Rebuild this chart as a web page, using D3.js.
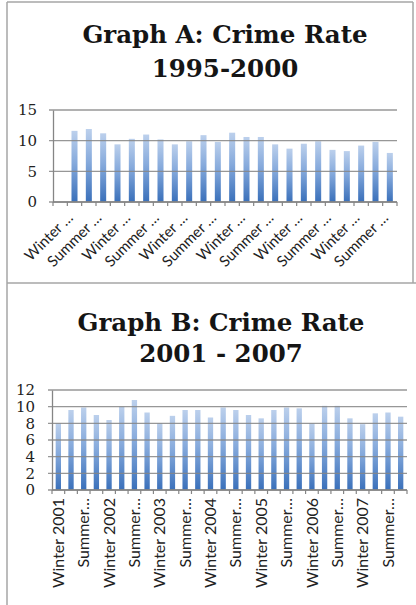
<!DOCTYPE html>
<html>
<head>
<meta charset="utf-8">
<script src="https://cdn.jsdelivr.net/npm/d3@7"></script>
<style>
  body { margin: 0; background: #fff; }
  svg { display: block; }
</style>
</head>
<body>
<div id="chart"></div>
<script>
// seasons per year
var seasons = ["Winter", "Spring", "Summer", "Fall"];

// Graph A: 1995-2000 (first quarter has no bar)
var yearsA = [1995, 1996, 1997, 1998, 1999, 2000];
var valuesA = [null, 11.6, 11.9, 11.2, 9.4, 10.3, 11.0, 10.2, 9.4, 9.9, 10.9, 9.8,
               11.3, 10.6, 10.6, 9.4, 8.7, 9.5, 9.9, 8.5, 8.3, 9.2, 9.8, 8.0];
var tickLabelsA = ["Winter …", "Summer …", "Winter …", "Summer …", "Winter …", "Summer …",
                   "Winter …", "Summer …", "Winter …", "Summer …", "Winter …", "Summer …"];
var yTicksA = [0, 5, 10, 15];

// Graph B: 2001-2007
var yearsB = [2001, 2002, 2003, 2004, 2005, 2006, 2007];
var valuesB = [8.0, 9.6, 9.9, 9.0, 8.4, 10.0, 10.8, 9.3, 8.0, 8.9, 9.6, 9.6, 8.7, 9.9,
               9.6, 9.0, 8.6, 9.6, 9.9, 9.8, 8.0, 10.1, 10.1, 8.6, 7.9, 9.2, 9.3, 8.8];
var tickLabelsB = ["Winter 2001", "Summer…", "Winter 2002", "Summer…", "Winter 2003", "Summer…",
                   "Winter 2004", "Summer…", "Winter 2005", "Summer…", "Winter 2006", "Summer…",
                   "Winter 2007", "Summer…"];
var yTicksB = [0, 2, 4, 6, 8, 10, 12];

function quarters(years) {
  var out = [];
  years.forEach(function(y){
    seasons.forEach(function(s){ out.push(s + " " + y); });
  });
  return out;
}

var w = 416, h = 605;
var svg = d3.select("#chart").append("svg")
  .attr("width", w)
  .attr("height", h);

var defs = svg.append("defs");
var grad = defs.append("linearGradient")
  .attr("id", "barGrad")
  .attr("x1", 0).attr("y1", 0).attr("x2", 0).attr("y2", 1);
grad.append("stop").attr("offset", "0%").attr("stop-color", "#bcd0ec");
grad.append("stop").attr("offset", "45%").attr("stop-color", "#86aadc");
grad.append("stop").attr("offset", "100%").attr("stop-color", "#3a70ba");

// outer frame (table cells)
var frameCol = "#a6a6a6";
svg.append("line").attr("x1", 7).attr("y1", 2).attr("x2", 7).attr("y2", h)
  .attr("stroke", frameCol).attr("stroke-width", 1.5);
svg.append("line").attr("x1", 7).attr("y1", 2).attr("x2", 413).attr("y2", 2)
  .attr("stroke", frameCol).attr("stroke-width", 1.5);
svg.append("line").attr("x1", 413).attr("y1", 2).attr("x2", 413).attr("y2", 283)
  .attr("stroke", frameCol).attr("stroke-width", 1.5);
svg.append("line").attr("x1", 7).attr("y1", 283).attr("x2", w).attr("y2", 283)
  .attr("stroke", frameCol).attr("stroke-width", 1.5);

function drawChart(opt) {
  var g = svg.append("g");

  // title, two lines
  g.selectAll("text.title")
    .data(opt.title)
    .enter().append("text")
    .attr("class", "title")
    .attr("x", opt.titleX)
    .attr("y", function(d, i){ return opt.titleY[i]; })
    .attr("text-anchor", "middle")
    .attr("font-family", "'DejaVu Serif', serif")
    .attr("font-weight", "bold")
    .attr("font-size", 24.5)
    .attr("fill", "#151515")
    .text(function(d){ return d; });

  var cats = quarters(opt.years);

  var x = d3.scaleBand()
    .domain(cats)
    .range([opt.left, opt.right])
    .paddingInner(opt.pad)
    .paddingOuter(opt.pad / 2);

  var y = d3.scaleLinear()
    .domain([0, opt.yMax])
    .range([opt.bottom, opt.top]);

  var step = x.step();

  // bars
  g.selectAll("rect.bar")
    .data(opt.values.map(function(v, i){ return {cat: cats[i], v: v}; })
      .filter(function(d){ return d.v != null; }))
    .enter().append("rect")
    .attr("class", "bar")
    .attr("x", function(d){ return x(d.cat); })
    .attr("y", function(d){ return y(d.v); })
    .attr("width", x.bandwidth())
    .attr("height", function(d){ return y(0) - y(d.v); })
    .attr("fill", "url(#barGrad)");

  // gridlines over bars
  g.selectAll("line.grid")
    .data(opt.yTicks)
    .enter().append("line")
    .attr("class", "grid")
    .attr("x1", opt.left - 4)
    .attr("x2", opt.right)
    .attr("y1", function(d){ return y(d); })
    .attr("y2", function(d){ return y(d); })
    .attr("stroke", "#858585")
    .attr("stroke-opacity", 0.85)
    .attr("stroke-width", 1.3);

  // y axis
  var yaxis = d3.axisLeft(y)
    .tickValues(opt.yTicks)
    .tickSize(0)
    .tickPadding(opt.left - opt.yLabelRight);
  var gY = g.append("g")
    .attr("transform", "translate(" + opt.left + ",0)")
    .call(yaxis);
  gY.select(".domain").attr("stroke", "#858585").attr("stroke-width", 1.3);
  gY.selectAll("text")
    .attr("font-family", "'DejaVu Serif', serif")
    .attr("font-size", 15)
    .attr("fill", "#222");

  // x axis baseline and tick marks between categories
  g.append("line")
    .attr("x1", opt.left).attr("x2", opt.right)
    .attr("y1", y(0)).attr("y2", y(0))
    .attr("stroke", "#858585").attr("stroke-width", 1.3);
  g.selectAll("line.xtick")
    .data(d3.range(cats.length + 1))
    .enter().append("line")
    .attr("class", "xtick")
    .attr("x1", function(i){ return opt.left + i * step; })
    .attr("x2", function(i){ return opt.left + i * step; })
    .attr("y1", y(0))
    .attr("y2", y(0) + 4)
    .attr("stroke", "#858585").attr("stroke-width", 1.2);

  // category labels (every other one)
  g.selectAll("text.xlab")
    .data(opt.tickLabels)
    .enter().append("text")
    .attr("class", "xlab")
    .attr("transform", function(d, i){
      var cx = x(cats[i * 2]) + x.bandwidth() / 2 + opt.labDx;
      return "translate(" + cx + "," + (y(0) + opt.labDy) + ") rotate(" + opt.rot + ")";
    })
    .attr("text-anchor", "end")
    .attr("dy", "0.35em")
    .attr("font-family", "Lato, sans-serif")
    .attr("font-size", opt.labSize)
    .attr("fill", "#222")
    .text(function(d){ return d; });
}

drawChart({
  title: ["Graph A: Crime Rate", "1995-2000"],
  titleX: 225, titleY: [43, 77],
  years: yearsA, values: valuesA, tickLabels: tickLabelsA,
  yMax: 15, yTicks: yTicksA,
  left: 53, right: 397, top: 110, bottom: 202,
  pad: 0.58, yLabelRight: 37,
  rot: -45, labDx: 10, labDy: 13, labSize: 15
});

drawChart({
  title: ["Graph B: Crime Rate", "2001 - 2007"],
  titleX: 221, titleY: [331, 362],
  years: yearsB, values: valuesB, tickLabels: tickLabelsB,
  yMax: 12, yTicks: yTicksB,
  left: 52, right: 407, top: 390, bottom: 490,
  pad: 0.58, yLabelRight: 35,
  rot: -90, labDx: 0, labDy: 8, labSize: 16
});
</script>
</body>
</html>
